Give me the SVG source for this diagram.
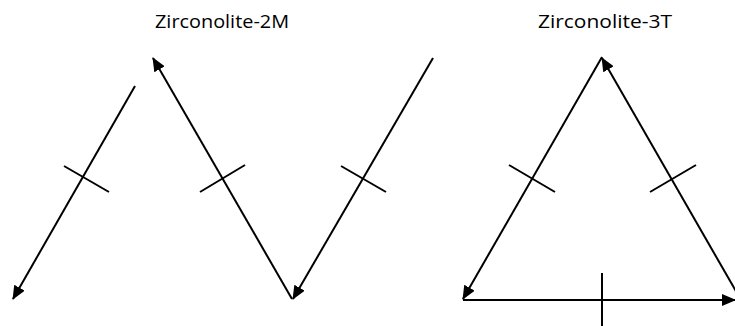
<svg xmlns="http://www.w3.org/2000/svg" width="735" height="326" viewBox="0 0 735 326">
<style>
.ax{stroke:#000;stroke-width:2;fill:none}
.tk{stroke:#000;stroke-width:2;fill:none}
.t{font-family:"Open Sans","Liberation Sans",sans-serif;font-size:18px;fill:#000;text-anchor:middle}
</style>
<defs>
<marker id="ah" markerUnits="userSpaceOnUse" markerWidth="14" markerHeight="12" refX="13" refY="6" orient="auto" viewBox="0 0 14 12">
<path d="M0,0 L14,6 L0,12 z" fill="#000"/>
</marker>
</defs>
<rect width="735" height="326" fill="#fff"/>
<g id="title-2M"><text class="t" x="222" y="28" textLength="134" lengthAdjust="spacingAndGlyphs">Zirconolite-2M</text></g>
<g id="title-3T"><text class="t" x="605" y="28" textLength="134" lengthAdjust="spacingAndGlyphs">Zirconolite-3T</text></g>
<g id="connectors">
<line class="ax" x1="135" y1="86" x2="13" y2="299" marker-end="url(#ah)"/>
<line class="ax" x1="292" y1="299" x2="153" y2="58" marker-end="url(#ah)"/>
<line class="ax" x1="433" y1="58" x2="293" y2="299" marker-end="url(#ah)"/>
<line class="ax" x1="602" y1="57" x2="463" y2="299" marker-end="url(#ah)"/>
<line class="ax" x1="741" y1="300" x2="602" y2="58" marker-end="url(#ah)"/>
<line class="ax" x1="463" y1="300" x2="735" y2="300" marker-end="url(#ah)"/>
</g>
<g id="ticks">
<line class="tk" x1="64" y1="166" x2="109" y2="192"/>
<line class="tk" x1="200" y1="192" x2="245" y2="165"/>
<line class="tk" x1="341" y1="166" x2="386" y2="192"/>
<line class="tk" x1="509" y1="165" x2="555" y2="192"/>
<line class="tk" x1="650" y1="192" x2="696" y2="165"/>
<line class="tk" x1="602" y1="273" x2="602" y2="326"/>
</g>
</svg>
